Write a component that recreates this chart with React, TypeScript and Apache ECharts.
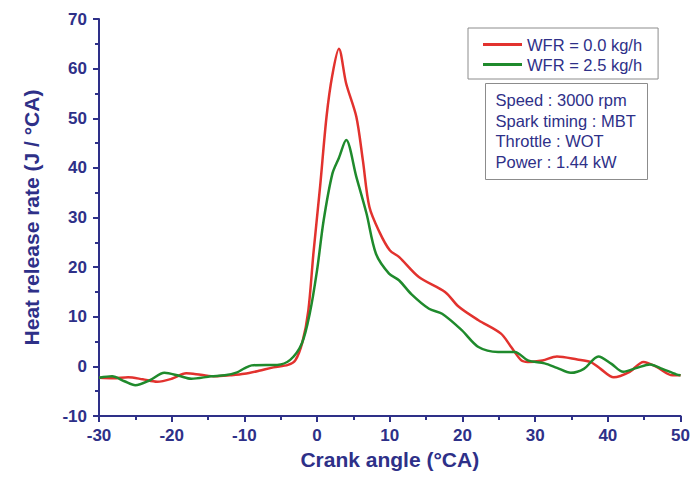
import React, { useEffect, useRef } from "react";
import * as echarts from "echarts";

const seriesNames = ["WFR = 0.0 kg/h", "WFR = 2.5 kg/h"];

const wfr00: [number, number][] = [
  [-30, -2.3], [-28, -2.4], [-26, -2.2], [-24, -2.6], [-22, -3.1], [-20, -2.5],
  [-18, -1.4], [-16, -1.7], [-14, -2.0], [-12, -1.8], [-10, -1.5], [-8, -0.9],
  [-6, -0.2], [-4, 0.3], [-3, 1.2], [-2, 5], [-1.2, 11.3], [-0.5, 22.8],
  [0.4, 36], [1.3, 50.3], [2.1, 58.7], [3, 64], [4, 57], [5.4, 50.3],
  [6.3, 41.5], [7.2, 32.1], [8.6, 27], [10, 23.4], [11.3, 22], [14, 18],
  [17.6, 15], [19.5, 12], [22.2, 9.3], [25.3, 6.6], [26.7, 3.9], [28.1, 1.2],
  [29, 0.9], [31, 1.2], [33, 2.0], [35.8, 1.4], [37.6, 0.9], [39, -0.5],
  [40.8, -2.2], [43, -1.1], [44.9, 0.9], [46.7, -0.1], [48.9, -1.8], [50, -1.8],
];

const wfr25: [number, number][] = [
  [-30, -2.3], [-28.2, -2.0], [-26.5, -3.0], [-25, -3.8], [-23, -2.8], [-21, -1.3],
  [-19, -1.9], [-17.3, -2.5], [-14.6, -2.0], [-12.7, -1.8], [-11, -1.2], [-10, -0.4],
  [-9, 0.2], [-7, 0.3], [-5.5, 0.3], [-3.7, 1.3], [-2.1, 4.6], [-1, 10.7], [0, 19.4],
  [0.9, 29.4], [2.1, 38.8], [3, 42], [4, 45.6], [5.4, 38.2], [6.8, 30.8],
  [8.1, 22.7], [9.9, 18.7], [11.3, 17.3], [13, 14.5], [15.4, 11.6], [17.2, 10.6],
  [19.9, 7.3], [22.2, 3.9], [24.9, 2.9], [27.2, 2.9], [29, 1.2], [31.3, 0.6],
  [33, -0.3], [34.9, -1.3], [36.7, -0.5], [38.7, 2.0], [40.5, 0.5], [42.1, -1.1],
  [44, -0.3], [45.8, 0.4], [47.5, -0.5], [49.4, -1.6], [50, -1.8],
];

const infoLines = ["Speed : 3000 rpm", "Spark timing : MBT", "Throttle : WOT", "Power : 1.44 kW"];

const NAVY = "#2e3088";
const FONT = "'Liberation Sans', Arial, sans-serif";

export default function App() {
  const ref = useRef<HTMLDivElement>(null);
  useEffect(() => {
    if (!ref.current) return;
    const chart = echarts.init(ref.current, undefined, { renderer: "svg" });
    chart.setOption({
      animation: false,
      backgroundColor: "#ffffff",
      textStyle: { fontFamily: FONT },
      grid: { left: 99, top: 19, right: 10, bottom: 71 },
      legend: {
        left: 468,
        top: 28,
        orient: "vertical",
        data: seriesNames,
        icon: "rect",
        borderColor: "#8c8c8c",
        borderWidth: 1,
        padding: [8, 16, 6, 15],
        itemWidth: 39,
        itemHeight: 3,
        itemGap: 3,
        textStyle: { color: NAVY, fontSize: 16.5, fontFamily: FONT },
      },
      xAxis: {
        type: "value",
        min: -30,
        max: 50,
        interval: 10,
        name: "Crank angle (°CA)",
        nameLocation: "middle",
        nameGap: 33,
        nameTextStyle: { color: NAVY, fontSize: 21, fontWeight: "bold", fontFamily: FONT },
        axisLine: { show: true, onZero: false, lineStyle: { color: NAVY, width: 2 } },
        axisTick: { show: true, length: 6, lineStyle: { color: NAVY, width: 2 } },
        minorTick: { show: true, splitNumber: 2, length: 4, lineStyle: { color: NAVY, width: 2 } },
        axisLabel: { color: NAVY, fontSize: 17, fontWeight: "bold", margin: 11, fontFamily: FONT },
        splitLine: { show: false },
      },
      yAxis: {
        type: "value",
        min: -10,
        max: 70,
        interval: 10,
        name: "Heat release rate (J / °CA)",
        nameLocation: "middle",
        nameGap: 57,
        nameTextStyle: { color: NAVY, fontSize: 21, fontWeight: "bold", fontFamily: FONT },
        axisLine: { show: true, onZero: false, lineStyle: { color: NAVY, width: 2 } },
        axisTick: { show: true, length: 6, lineStyle: { color: NAVY, width: 2 } },
        minorTick: { show: true, splitNumber: 2, length: 4, lineStyle: { color: NAVY, width: 2 } },
        axisLabel: { color: NAVY, fontSize: 17, fontWeight: "bold", margin: 12, fontFamily: FONT },
        splitLine: { show: false },
      },
      series: [
        {
          name: seriesNames[0],
          type: "line",
          data: wfr00,
          symbol: "none",
          smooth: 0.3,
          lineStyle: { color: "#e2322e", width: 2.5 },
          itemStyle: { color: "#e2322e" },
        },
        {
          name: seriesNames[1],
          type: "line",
          data: wfr25,
          symbol: "none",
          smooth: 0.3,
          lineStyle: { color: "#1f8a2c", width: 2.5 },
          itemStyle: { color: "#1f8a2c" },
        },
      ],
      graphic: [
        {
          type: "group",
          left: 485,
          top: 83,
          children: [
            {
              type: "rect",
              shape: { x: 0, y: 0, width: 162, height: 96 },
              style: { fill: "#ffffff", stroke: "#8c8c8c", lineWidth: 1 },
            },
            ...infoLines.map((t, i) => ({
              type: "text",
              x: 10,
              y: 8 + i * 20.7,
              style: { text: t, fill: NAVY, fontSize: 16.5, fontFamily: FONT },
            })),
          ],
        },
      ],
    });
    return () => chart.dispose();
  }, []);
  return (
    <div
      ref={ref}
      style={{ position: "absolute", left: 0, top: 0, width: 693, height: 487 }}
    />
  );
}
